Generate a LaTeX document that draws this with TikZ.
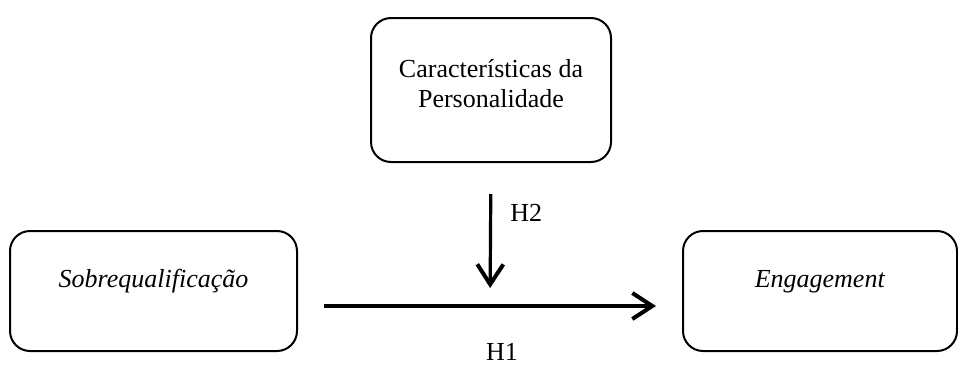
\documentclass[tikz,border=0pt]{standalone}
\usepackage{fontspec}
\setmainfont{Liberation Serif}
\usetikzlibrary{arrows.meta}
\tikzset{
	caixa/.style={
			draw, line width=2pt, rounded corners=20pt, inner sep=0pt,
			font=\fontsize{26}{30}\selectfont
		},
	seta/.style={
			line width=3.2pt,
			-{Straight Barb[length=20pt,width=26pt,line width=4pt]}
		},
	rotulo/.style={inner sep=0pt, font=\fontsize{26}{30}\selectfont}
}

\begin{document}
\begin{tikzpicture}[x=1pt,y=-1pt]
        \useasboundingbox (0,0) rectangle (958,365);
        \node[caixa, minimum width=240pt, text height=59pt, text depth=85pt] (persona) at (491, 90)
            {\begin{tabular}[t]{@{}c@{}}Características da\\Personalidade\end{tabular}};
        \node[caixa, minimum width=287pt, text height=56pt, text depth=64pt] (sobre) at (153.5, 291) {\textit{Sobrequalificação}};
        \node[caixa, minimum width=274pt, text height=56pt, text depth=64pt] (engage) at (820, 291) {\textit{Engagement}};
        \draw[seta, shorten <=26pt, shorten >=26pt] ([yshift=-15pt]sobre.east) -- ([yshift=-15pt]engage.west)
            coordinate[pos=0.5] (h1mid)
            node[rotulo, pos=0.5, anchor=base, xshift=12pt, yshift=-54pt] (h1) {H1};
        \draw[seta, shorten <=31pt, shorten >=18pt] (persona.south) -- (h1mid)
            node[rotulo, pos=0.35, anchor=west, xshift=18pt] (h2) {H2};
    \end{tikzpicture}
\end{document}
